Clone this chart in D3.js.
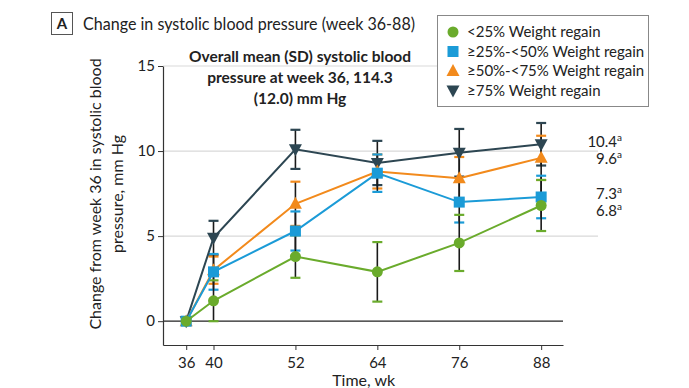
<!DOCTYPE html>
<html lang="en">
<head>
<meta charset="UTF-8">
<title>Change in systolic blood pressure</title>
<script src="https://d3js.org/d3.v7.min.js"></script>
<style>
  body, html { margin: 0; padding: 0; background: #fff; }
  svg text { font-family: Lato, "Open Sans", sans-serif; fill: #222; }
</style>
</head>
<body>
<div id="chart"></div>
<script>
// weeks of measurement
const weeks = [36, 40, 52, 64, 76, 88];
const groups = ["<25% Weight regain", "≥25%-<50% Weight regain", "≥50%-<75% Weight regain", "≥75% Weight regain"];
// mean change from week 36 (mm Hg)
const meanLow = [0, 1.2, 3.8, 2.9, 4.6, 6.8];
const meanMid1 = [0, 2.9, 5.3, 8.7, 7.0, 7.3];
const meanMid2 = [0, 3.0, 6.9, 8.8, 8.4, 9.6];
const meanHigh = [0, 4.9, 10.1, 9.3, 9.9, 10.4];
// half-width of error bars
const errLow = [0, 1.2, 1.25, 1.75, 1.65, 1.5];
const errMid1 = [0, 1.05, 1.15, 1.1, 1.2, 1.25];
const errMid2 = [0, 0.8, 1.3, 1.0, 1.25, 1.3];
const errHigh = [0, 1.0, 1.15, 1.3, 1.4, 1.25];
const endLabels = ["6.8", "7.3", "9.6", "10.4"];
const yTicks = [0, 5, 10, 15];

const width = 689, height = 388;
const svg = d3.select("#chart").append("svg")
    .attr("width", width).attr("height", height);

const x = d3.scaleLinear().domain([32.6, 91.2]).range([163, 563]);
const y = d3.scaleLinear().domain([-1.4, 15]).range([345, 66]);

const series = [
    {name: groups[3], mean: meanHigh, err: errHigh, color: "#2d4652", shape: "down", label: endLabels[3], ly: 3},
    {name: groups[2], mean: meanMid2, err: errMid2, color: "#f28a1c", shape: "up", label: endLabels[2], ly: 6},
    {name: groups[1], mean: meanMid1, err: errMid1, color: "#1b9bd7", shape: "square", label: endLabels[1], ly: 2},
    {name: groups[0], mean: meanLow, err: errLow, color: "#6aab2c", shape: "circle", label: endLabels[0], ly: 10}
];

// gridlines
svg.append("g").selectAll("line")
    .data(yTicks.filter(d => d > 0))
    .enter().append("line")
    .attr("x1", x.range()[0])
    .attr("x2", d => d === 15 ? 437 : 598)
    .attr("y1", d => y(d)).attr("y2", d => y(d))
    .attr("stroke", "#d9d9d9").attr("stroke-width", 1.2);

// zero line
svg.append("line")
    .attr("x1", x.range()[0]).attr("x2", x.range()[1])
    .attr("y1", y(0)).attr("y2", y(0))
    .attr("stroke", "#222").attr("stroke-width", 1.3);

// axes
const yAxis = svg.append("g")
    .attr("transform", `translate(${x.range()[0]},0)`)
    .call(d3.axisLeft(y).tickValues(yTicks).tickSize(5).tickSizeOuter(0));
const xAxis = svg.append("g")
    .attr("transform", `translate(0,${y.range()[0]})`)
    .call(d3.axisBottom(x).tickValues(weeks).tickSize(5).tickSizeOuter(0));
[xAxis, yAxis].forEach(a => {
    a.select(".domain").attr("stroke", "#333").attr("stroke-width", 1.2);
    a.selectAll(".tick line").attr("stroke", "#333");
    a.selectAll(".tick text").attr("font-size", 15).attr("fill", "#333")
        .style("font-family", "Lato, sans-serif");
});
xAxis.selectAll(".tick text").attr("dy", "1.0em");

// axis titles
svg.append("text")
    .attr("x", (x(36) + x(88)) / 2).attr("y", 386)
    .attr("text-anchor", "middle").attr("font-size", 16)
    .text("Time, wk");
const yt = svg.append("text")
    .attr("transform", "translate(101,194) rotate(-90)")
    .attr("text-anchor", "middle").attr("font-size", 16);
yt.append("tspan").attr("x", 0).attr("dy", 0).text("Change from week 36 in systolic blood");
yt.append("tspan").attr("x", 0).attr("dy", 22).text("pressure, mm Hg");

// error bars: black stems with coloured caps
series.forEach(s => {
    const g = svg.append("g");
    const pts = weeks.map((w, i) => ({w, m: s.mean[i], e: s.err[i]})).filter(d => d.e > 0);
    g.selectAll(".stem").data(pts).enter().append("line")
        .attr("x1", d => x(d.w)).attr("x2", d => x(d.w))
        .attr("y1", d => y(d.m - d.e)).attr("y2", d => y(d.m + d.e))
        .attr("stroke", "#1a1a1a").attr("stroke-width", 1.6);
    [-1, 1].forEach(sgn => {
        g.selectAll(".cap" + sgn).data(pts).enter().append("line")
            .attr("x1", d => x(d.w) - 5).attr("x2", d => x(d.w) + 5)
            .attr("y1", d => y(d.m + sgn * d.e)).attr("y2", d => y(d.m + sgn * d.e))
            .attr("stroke", s.color).attr("stroke-width", 2.2);
    });
});

// lines and markers
const line = d3.line().x((d, i) => x(weeks[i])).y(d => y(d));
function marker(sel, shape, color, cx, cy) {
    if (shape === "circle") {
        sel.append("circle").attr("cx", cx).attr("cy", cy).attr("r", 5.5).attr("fill", color);
    } else if (shape === "square") {
        sel.append("rect").attr("x", cx - 5.5).attr("y", cy - 5.5)
            .attr("width", 11).attr("height", 11).attr("fill", color);
    } else if (shape === "up") {
        sel.append("path").attr("d", `M${cx},${cy - 7}L${cx + 6.5},${cy + 5}L${cx - 6.5},${cy + 5}Z`).attr("fill", color);
    } else {
        sel.append("path").attr("d", `M${cx},${cy + 7}L${cx + 6.5},${cy - 5}L${cx - 6.5},${cy - 5}Z`).attr("fill", color);
    }
}
series.forEach(s => {
    svg.append("path").datum(s.mean).attr("d", line)
        .attr("fill", "none").attr("stroke", s.color).attr("stroke-width", 2);
    const g = svg.append("g");
    s.mean.forEach((m, i) => marker(g, s.shape, s.color, x(weeks[i]), y(m)));
});

// end-of-line values
series.forEach(s => {
    const t = svg.append("text")
        .attr("x", 622).attr("y", y(s.mean[5]) + s.ly)
        .attr("text-anchor", "end").attr("font-size", 15);
    t.append("tspan").text(s.label);
    t.append("tspan").attr("dy", -6).attr("font-size", 10).text("a");
});

// annotation
const ann = svg.append("text").attr("text-anchor", "middle")
    .attr("font-size", 15.5).attr("font-weight", "bold");
["Overall mean (SD) systolic blood", "pressure at week 36, 114.3", "(12.0) mm Hg"].forEach((t, i) => {
    ann.append("tspan").attr("x", 300).attr("y", 62 + i * 21).text(t);
});

// title
svg.append("rect").attr("x", 51.5).attr("y", 12.5).attr("width", 21).attr("height", 22)
    .attr("fill", "none").attr("stroke", "#555");
svg.append("text").attr("x", 62).attr("y", 29).attr("text-anchor", "middle")
    .attr("font-size", 15).attr("font-weight", "bold").text("A");
svg.append("text").attr("x", 83).attr("y", 29.5).attr("font-size", 17.5)
    .attr("textLength", 332).attr("lengthAdjust", "spacingAndGlyphs")
    .text("Change in systolic blood pressure (week 36-88)");

// legend
const lg = svg.append("g");
lg.append("rect").attr("x", 437.5).attr("y", 15.5).attr("width", 211).attr("height", 91)
    .attr("fill", "#fff").attr("stroke", "#888");
series.slice().reverse().forEach((s, i) => {
    const cy = 32 + i * 19.5;
    marker(lg, s.shape, s.color, 453, cy);
    lg.append("text").attr("x", 467).attr("y", cy + 5).attr("font-size", 15).text(s.name);
});
</script>
</body>
</html>
